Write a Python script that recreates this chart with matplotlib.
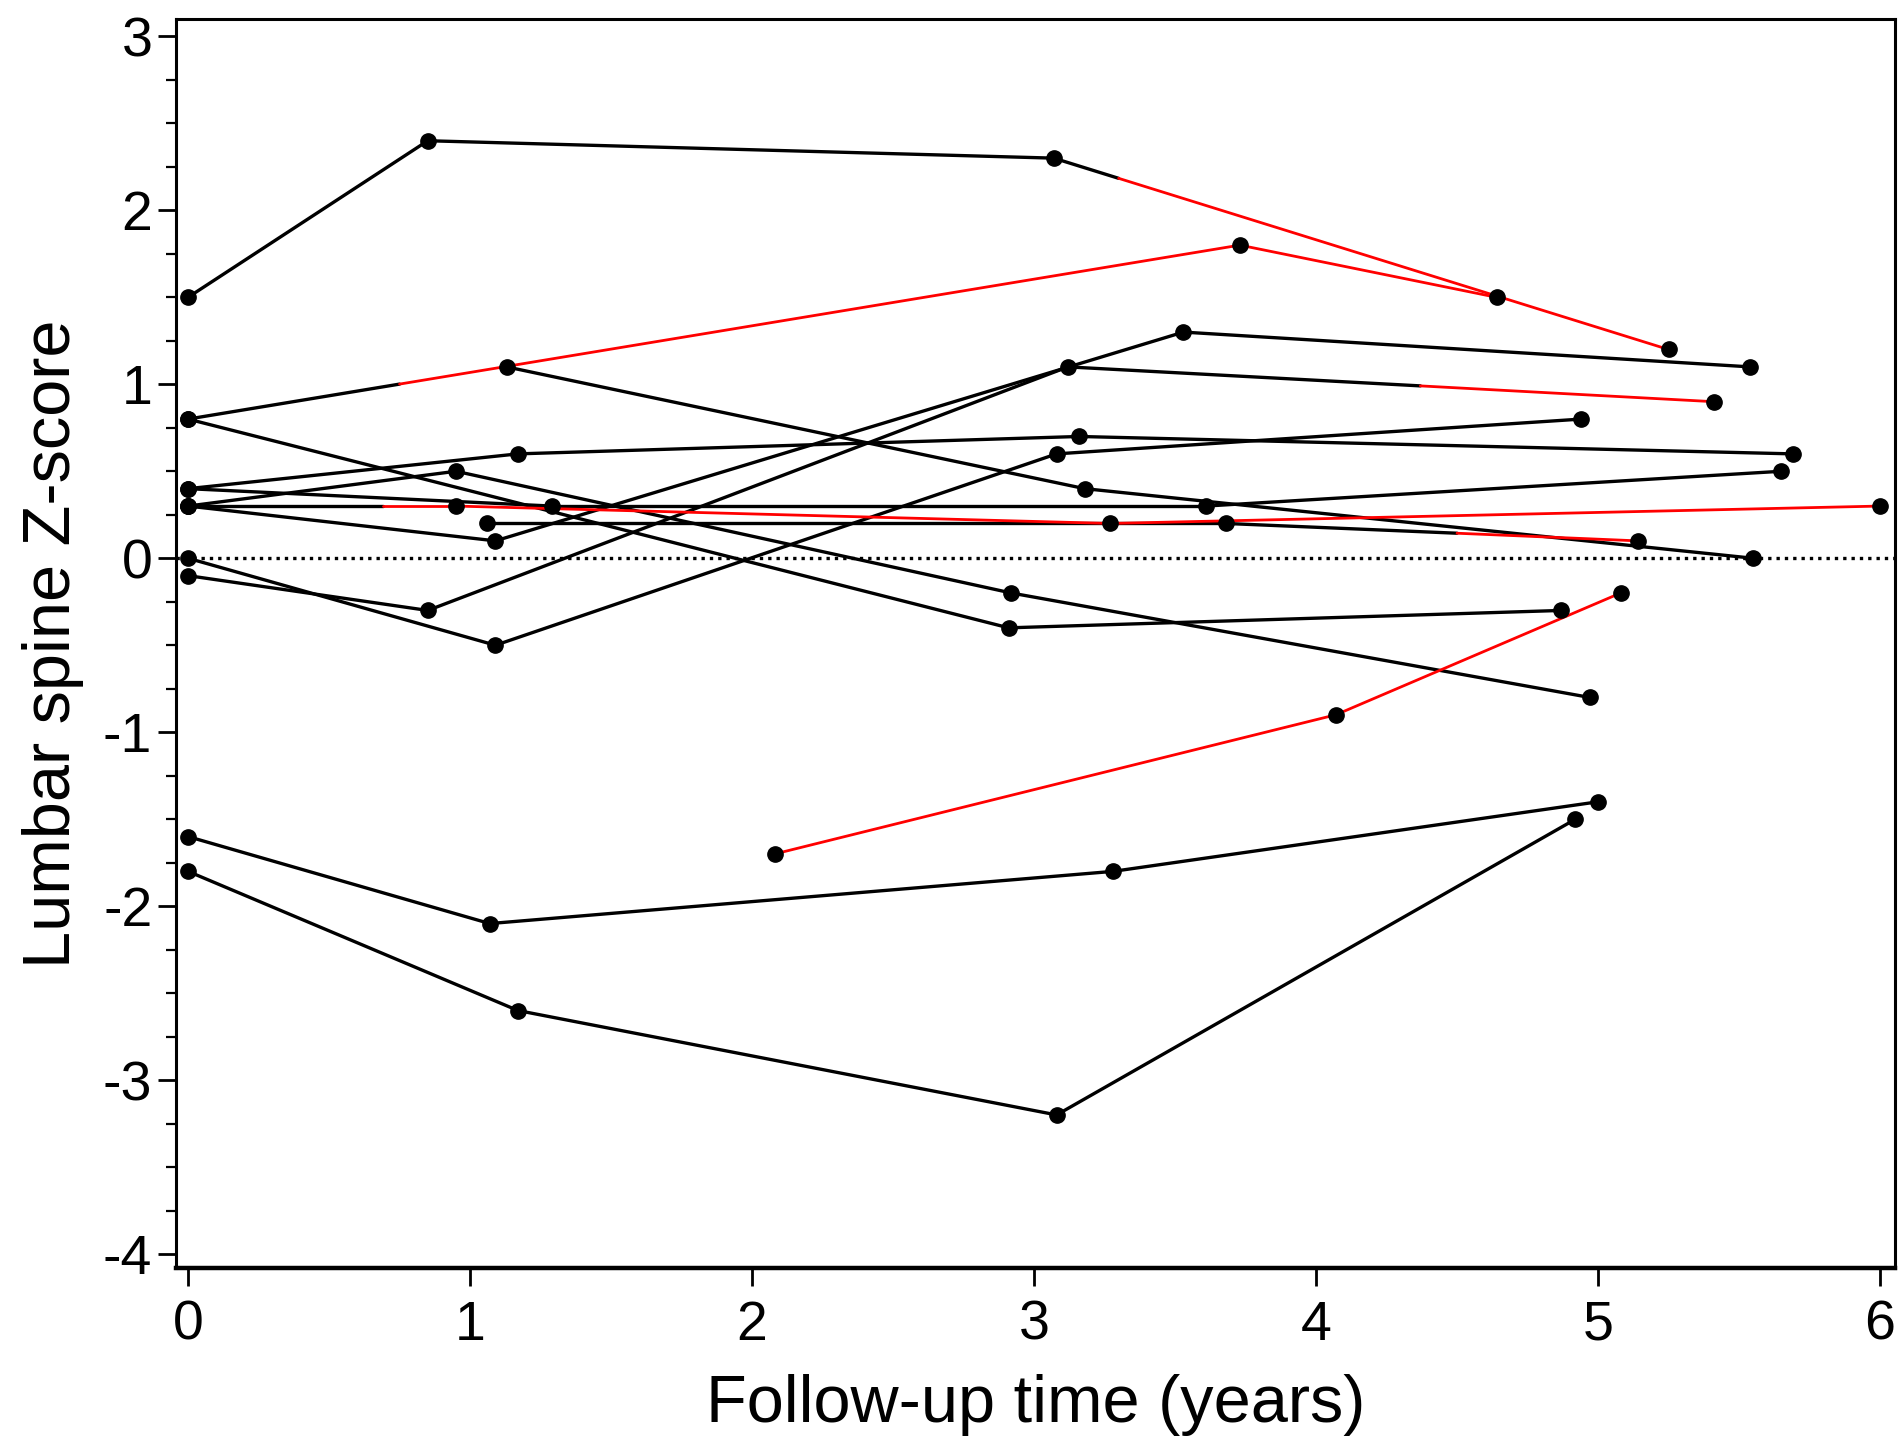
import matplotlib
matplotlib.use("Agg")
import matplotlib.pyplot as plt
from matplotlib.ticker import MultipleLocator, FuncFormatter

plt.rcParams['font.family'] = ['Liberation Sans', 'DejaVu Sans']

# ---- data: follow-up time (years) and lumbar spine Z-score per subject ----
# red_from: time from which the subject's trajectory is drawn red (None = all black)
s1_t = [0.0, 0.85, 3.07, 5.25];        s1_z = [1.5, 2.4, 2.3, 1.2];        s1_red = 3.3
s2_t = [0.0, 3.73, 4.64];              s2_z = [0.8, 1.8, 1.5];             s2_red = 0.75
s3_t = [1.13, 3.18, 5.55];             s3_z = [1.1, 0.4, 0.0];             s3_red = None
s4_t = [0.0, 2.91, 4.87];              s4_z = [0.8, -0.4, -0.3];           s4_red = None
s5_t = [0.0, 1.17, 3.16, 5.69];        s5_z = [0.4, 0.6, 0.7, 0.6];        s5_red = None
s6_t = [0.0, 1.29, 3.61, 5.65];        s6_z = [0.4, 0.3, 0.3, 0.5];        s6_red = None
s7_t = [0.0, 0.95, 2.92, 4.97];        s7_z = [0.3, 0.5, -0.2, -0.8];      s7_red = None
s8_t = [0.0, 0.95, 3.27, 6.0];         s8_z = [0.3, 0.3, 0.2, 0.3];        s8_red = 0.69
s9_t = [0.0, 1.09, 3.53, 5.54];        s9_z = [0.3, 0.1, 1.3, 1.1];        s9_red = None
s10_t = [0.0, 0.85, 3.12, 5.41];       s10_z = [-0.1, -0.3, 1.1, 0.9];     s10_red = 4.37
s11_t = [0.0, 1.09, 3.08, 4.94];       s11_z = [0.0, -0.5, 0.6, 0.8];      s11_red = None
s12_t = [1.06, 3.68, 5.14];            s12_z = [0.2, 0.2, 0.1];            s12_red = 4.5
s13_t = [2.08, 4.07, 5.08];            s13_z = [-1.7, -0.9, -0.2];         s13_red = 2.08
s14_t = [0.0, 1.07, 3.28, 5.0];        s14_z = [-1.6, -2.1, -1.8, -1.4];   s14_red = None
s15_t = [0.0, 1.17, 3.08, 4.92];       s15_z = [-1.8, -2.6, -3.2, -1.5];   s15_red = None

subjects = [
    (s1_t, s1_z, s1_red), (s2_t, s2_z, s2_red), (s3_t, s3_z, s3_red),
    (s4_t, s4_z, s4_red), (s5_t, s5_z, s5_red), (s6_t, s6_z, s6_red),
    (s7_t, s7_z, s7_red), (s8_t, s8_z, s8_red), (s9_t, s9_z, s9_red),
    (s10_t, s10_z, s10_red), (s11_t, s11_z, s11_red), (s12_t, s12_z, s12_red),
    (s13_t, s13_z, s13_red), (s14_t, s14_z, s14_red), (s15_t, s15_z, s15_red),
]

x_ticks = [0, 1, 2, 3, 4, 5, 6]
y_ticks = [-4, -3, -2, -1, 0, 1, 2, 3]
x_label = "Follow-up time (years)"
y_label = "Lumbar spine Z-score"

fig = plt.figure(figsize=(19.02, 14.37), dpi=100)
ax = fig.add_axes([0.0925, 0.1176, 0.9038, 0.8692])

ax.axhline(0, color='black', lw=2.4, linestyle=(0, (1, 1.5)), zorder=1)

BLACK_LW = 2.4
RED_LW = 2.0
black_segs = []
red_segs = []
for t, z, red in subjects:
    for i in range(len(t) - 1):
        x0, x1, y0, y1 = t[i], t[i + 1], z[i], z[i + 1]
        if red is None or x1 <= red:
            black_segs.append(((x0, x1), (y0, y1)))
        elif x0 >= red:
            red_segs.append(((x0, x1), (y0, y1)))
        else:
            ym = y0 + (y1 - y0) * (red - x0) / (x1 - x0)
            black_segs.append(((x0, red), (y0, ym)))
            red_segs.append(((red, x1), (ym, y1)))

for xs, ys in black_segs:
    ax.plot(xs, ys, color='black', lw=BLACK_LW, solid_capstyle='round', zorder=2)
for xs, ys in red_segs:
    ax.plot(xs, ys, color='#ff0000', lw=RED_LW, solid_capstyle='round', zorder=3)
for t, z, red in subjects:
    ax.plot(t, z, linestyle='none', marker='o', markersize=11,
            color='black', zorder=4)

ax.set_xlim(-0.043, 6.053)
ax.set_ylim(-4.08, 3.1)
ax.set_xticks(x_ticks)
ax.set_yticks(y_ticks)
ax.yaxis.set_minor_locator(MultipleLocator(0.25))
ax.yaxis.set_major_formatter(FuncFormatter(lambda v, p: f"{int(v)}".replace('\u2212', '-')))
ax.xaxis.set_major_formatter(FuncFormatter(lambda v, p: f"{int(v)}"))

ax.tick_params(axis='both', which='major', direction='out', length=13, width=2.0,
               labelsize=40, pad=4, colors='black')
ax.tick_params(axis='y', which='minor', direction='out', length=7, width=1.6)
ax.tick_params(axis='x', which='major', pad=10)

for side in ['left', 'right', 'top']:
    ax.spines[side].set_linewidth(2.2)
ax.spines['bottom'].set_linewidth(3.2)

ax.set_xlabel(x_label, fontsize=48, labelpad=16)
ax.set_ylabel(y_label, fontsize=48, labelpad=14)

fig.savefig("out.png", dpi=100)
